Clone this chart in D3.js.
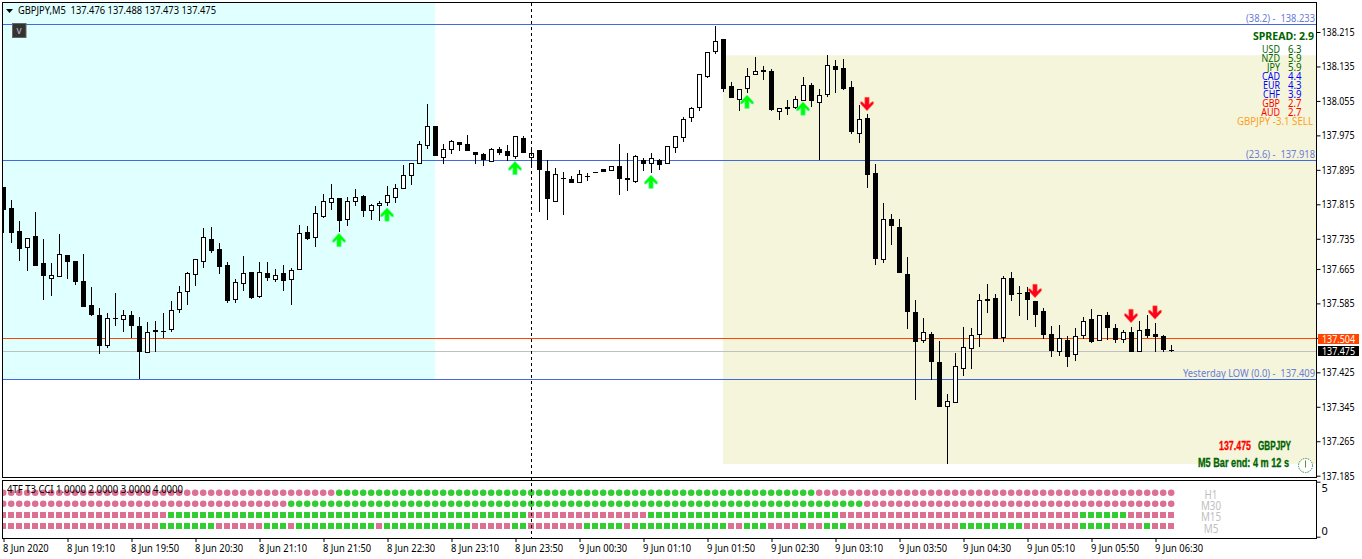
<!DOCTYPE html>
<html><head><meta charset="utf-8">
<script src="https://cdn.jsdelivr.net/npm/d3@7"></script>
<style>
html,body{margin:0;padding:0;background:#fff;overflow:hidden}
svg{display:block}
text{font-family:"Noto Sans",Tahoma,sans-serif;white-space:pre}
</style></head><body>
<svg id="c" width="1362" height="559"></svg>
<script>
const opens=[137.855,137.806,137.753,137.717,137.741,137.678,137.645,137.649,137.697,137.683,
137.637,137.581,137.558,137.489,137.551,137.548,137.557,137.533,137.472,137.523,
137.520,137.525,137.571,137.613,137.653,137.683,137.734,137.711,137.674,137.595,
137.632,137.657,137.601,137.655,137.642,137.655,137.641,137.664,137.750,137.738,
137.789,137.821,137.829,137.780,137.823,137.834,137.801,137.813,137.821,137.833,
137.854,137.884,137.912,137.952,137.997,137.924,137.944,137.959,137.955,137.936,
137.931,137.916,137.943,137.939,137.928,137.968,137.925,137.940,137.892,137.823,
137.875,137.873,137.867,137.881,137.890,137.896,137.895,137.904,137.875,137.870,
137.918,137.912,137.919,137.910,137.947,137.972,138.017,138.042,138.113,138.170,
138.199,138.089,138.059,138.086,138.117,138.127,138.124,138.032,138.041,138.041,
138.058,138.093,138.053,138.070,138.136,138.131,138.087,137.980,138.015,137.888,
137.689,137.780,137.762,137.653,137.565,137.499,137.514,137.449,137.346,137.357,
137.435,137.481,137.513,137.595,137.597,137.506,137.643,137.609,137.611,137.591,
137.567,137.514,137.474,137.499,137.467,137.511,137.548,137.499,137.557,137.527,
137.502,137.518,137.474,137.525,137.513,137.509,137.476];
const closes=[137.802,137.748,137.711,137.736,137.672,137.649,137.651,137.699,137.680,137.635,
137.577,137.558,137.486,137.551,137.551,137.557,137.533,137.471,137.519,137.519,
137.520,137.569,137.611,137.655,137.687,137.738,137.707,137.670,137.591,137.634,
137.655,137.598,137.657,137.644,137.650,137.638,137.663,137.748,137.734,137.794,
137.822,137.829,137.777,137.823,137.831,137.800,137.813,137.819,137.836,137.852,
137.882,137.910,137.954,137.996,137.928,137.943,137.961,137.953,137.939,137.930,
137.918,137.943,137.935,137.928,137.973,137.935,137.933,137.895,137.828,137.885,
137.875,137.865,137.885,137.881,137.890,137.891,137.903,137.874,137.871,137.926,
137.908,137.922,137.906,137.950,137.973,138.012,138.038,138.118,138.168,138.193,
138.083,138.062,138.083,138.114,138.124,138.123,138.034,138.038,138.037,138.059,
138.091,138.055,138.068,138.138,138.127,138.083,137.983,138.012,137.884,137.689,
137.780,137.765,137.656,137.566,137.496,137.518,137.448,137.345,137.358,137.439,
137.483,137.511,137.592,137.591,137.503,137.643,137.605,137.606,137.593,137.559,
137.512,137.475,137.504,137.461,137.509,137.544,137.496,137.557,137.529,137.499,
137.518,137.473,137.523,137.510,137.506,137.476,137.475];
const highs=[137.855,137.825,137.776,137.737,137.796,137.734,137.678,137.746,137.697,137.683,
137.700,137.622,137.574,137.562,137.609,137.570,137.567,137.554,137.542,137.544,
137.562,137.590,137.625,137.657,137.687,137.760,137.762,137.725,137.680,137.641,
137.695,137.658,137.681,137.681,137.664,137.673,137.666,137.766,137.765,137.811,
137.839,137.862,137.830,137.832,137.851,137.836,137.815,137.822,137.857,137.862,
137.906,137.910,137.962,138.048,137.997,137.954,137.964,137.959,137.976,137.936,
137.933,137.945,137.948,137.953,137.973,137.974,137.941,137.940,137.919,137.899,
137.889,137.881,137.895,137.887,137.890,137.896,137.903,137.955,137.933,137.929,
137.923,137.933,137.920,137.950,137.973,138.017,138.040,138.118,138.168,138.229,
138.199,138.098,138.083,138.131,138.157,138.136,138.128,138.038,138.057,138.066,
138.110,138.096,138.083,138.161,138.150,138.152,138.101,138.045,138.025,137.908,
137.818,137.792,137.782,137.692,137.593,137.551,137.518,137.498,137.375,137.469,
137.530,137.527,137.606,137.630,137.606,137.648,137.658,137.625,137.623,137.591,
137.574,137.533,137.534,137.509,137.527,137.553,137.571,137.557,137.564,137.537,
137.523,137.531,137.544,137.557,137.539,137.511,137.488];
const lows=[137.748,137.725,137.684,137.661,137.672,137.593,137.602,137.649,137.642,137.628,
137.577,137.556,137.468,137.482,137.533,137.519,137.504,137.409,137.472,137.473,
137.504,137.519,137.563,137.581,137.626,137.667,137.702,137.654,137.587,137.587,
137.614,137.596,137.598,137.638,137.635,137.614,137.581,137.664,137.732,137.717,
137.783,137.802,137.751,137.765,137.811,137.786,137.779,137.777,137.812,137.819,
137.851,137.860,137.912,137.943,137.928,137.909,137.932,137.939,137.939,137.909,
137.905,137.916,137.930,137.916,137.920,137.935,137.899,137.796,137.779,137.823,
137.790,137.865,137.867,137.870,137.890,137.891,137.895,137.837,137.846,137.865,
137.892,137.888,137.895,137.910,137.935,137.960,138.007,138.032,138.109,138.164,
138.076,138.062,138.032,138.074,138.117,138.104,138.032,138.011,138.022,138.036,
138.058,138.041,137.917,138.065,138.074,138.081,137.978,137.957,137.853,137.674,
137.679,137.721,137.656,137.526,137.361,137.494,137.407,137.345,137.212,137.357,
137.417,137.433,137.484,137.563,137.503,137.495,137.591,137.556,137.547,137.530,
137.503,137.461,137.463,137.438,137.452,137.503,137.492,137.499,137.500,137.492,
137.492,137.473,137.474,137.505,137.473,137.471,137.473];

const xTickLabels=["8 Jun 2020","8 Jun 19:10","8 Jun 19:50","8 Jun 20:30","8 Jun 21:10","8 Jun 21:50","8 Jun 22:30","8 Jun 23:10","8 Jun 23:50","9 Jun 00:30","9 Jun 01:10","9 Jun 01:50","9 Jun 02:30","9 Jun 03:10","9 Jun 03:50","9 Jun 04:30","9 Jun 05:10","9 Jun 05:50","9 Jun 06:30"];
const xTickBars=[0,8,16,24,32,40,48,56,64,72,80,88,96,104,112,120,128,136,144];
const yTickValues=[138.215,138.135,138.055,137.975,137.895,137.815,137.735,137.665,137.585,137.505,137.425,137.345,137.265,137.185];

const upArrowBars=[42,48,64,81,93,100];
const upArrowPrices=[137.748,137.807,137.915,137.883,138.069,138.053];
const downArrowBars=[108,129,141,144];
const downArrowPrices=[138.032,137.598,137.540,137.548];

const fibHigh=138.233, fibMid=137.918, yesterdayLow=137.409, askPrice=137.504, bidPrice=137.475;
const cursorBar=66, cyanEndBar=54, beigeStartBar=90, beigeTopPrice=138.161, beigeBottomPrice=137.212;

const strengthNames=["USD","NZD","JPY","CAD","EUR","CHF","GBP","AUD"];
const strengthValues=["6.3","5.9","5.9","4.4","4.3","3.9","2.7","2.7"];
const strengthColors=["#006400","#006400","#006400","#0000ff","#0000ff","#0000ff","#ff0000","#ff0000"];

const tfNames=["H1","M30","M15","M5"];
const tfLevels=[4,3,2,1];
const tfShapes=["circle","circle","square","square"];
const greenRunsH1=[[42,101]];
const greenRunsM30=[[36,107]];
const greenRunsM15=[[21,65],[81,104],[135,140]];
const greenRunsM5=[[20,26],[33,35],[37,46],[48,58],[64,65],[73,77],[79,90],[93,95],[100,100],[103,105],[120,127],[135,138],[143,143]];
const tfRuns=[greenRunsH1,greenRunsM30,greenRunsM15,greenRunsM5];

const svg=d3.select("#c");
const x=d3.scaleLinear().domain([0,146]).range([3.5,1171.5]);
const y=d3.scaleLinear().domain([137.185,138.215]).range([475.7,32]);
const ySub=d3.scaleLinear().domain([0,5]).range([536.7,481.7]);
const BL=1,BT=2,BR=1317,BB=478,ST=481,SB=538;
const blue="#4169e1",pink="#db7093",green="#32cd32";

// squeeze a text to a width (or a fraction of its natural width); the installed fonts run wider than the original
function squeeze(sel,factor){
  sel.each(function(){
    const w=this.getComputedTextLength();
    d3.select(this).attr("textLength",(w*factor).toFixed(1)).attr("lengthAdjust","spacingAndGlyphs");
  });
  return sel;
}
function fit(sel,len){return sel.attr("textLength",len).attr("lengthAdjust","spacingAndGlyphs");}

const defs=svg.append("defs");
defs.append("clipPath").attr("id","mainClip").append("rect").attr("x",3).attr("y",3).attr("width",BR-3).attr("height",BB-4);
defs.append("clipPath").attr("id","subClip").append("rect").attr("x",3).attr("y",ST).attr("width",BR-3).attr("height",SB-ST);

const main=svg.append("g").attr("clip-path","url(#mainClip)");
main.append("rect").attr("x",0).attr("y",0).attr("width",x(cyanEndBar)-0.5).attr("height",y(yesterdayLow)).attr("fill","#e0ffff");
main.append("rect").attr("x",x(beigeStartBar)-0.5).attr("y",y(beigeTopPrice)).attr("width",BR-x(beigeStartBar)).attr("height",y(beigeBottomPrice)-y(beigeTopPrice)).attr("fill","#f5f5dc");

const hLines=[[fibHigh,blue],[fibMid,blue],[yesterdayLow,blue],[askPrice,"#ff4500"],[bidPrice,"#c0c0c0"]];
main.selectAll("line.h").data(hLines).join("line")
 .attr("x1",0).attr("x2",BR).attr("y1",d=>Math.round(y(d[0]))+0.5).attr("y2",d=>Math.round(y(d[0]))+0.5)
 .attr("stroke",d=>d[1]).attr("stroke-width",1);

const bars=opens.map((o,i)=>({i,o,c:closes[i],h:highs[i],l:lows[i]}));
const cg=main.append("g").attr("shape-rendering","crispEdges");
const r=v=>Math.round(y(v));
cg.selectAll("rect.w").data(bars).join("rect").attr("class","w")
 .attr("x",d=>x(d.i)-0.5).attr("width",1)
 .attr("y",d=>r(d.h)).attr("height",d=>Math.max(1,r(d.l)-r(d.h))).attr("fill","#000");
cg.selectAll("rect.b").data(bars).join("rect").attr("class","b")
 .each(function(d){
   const top=r(Math.max(d.o,d.c)),bot=r(Math.min(d.o,d.c)),s=d3.select(this);
   if(d.c>d.o){
     s.attr("x",x(d.i)-2).attr("width",4).attr("y",top+0.5).attr("height",Math.max(1,bot-top))
      .attr("fill","#fff").attr("stroke","#000").attr("stroke-width",1);
   }else{
     s.attr("x",x(d.i)-2.5).attr("width",5).attr("y",top).attr("height",Math.max(1,bot-top)).attr("fill","#000");
   }
 });

const upShape="M0,0L6.5,7L6.5,9L5,9L2.2,6.5L2.2,13.5L-2.2,13.5L-2.2,6.5L-5,9L-6.5,9L-6.5,7Z";
const dnShape="M0,0L6.5,-7L6.5,-9L5,-9L2.2,-6.5L2.2,-13.5L-2.2,-13.5L-2.2,-6.5L-5,-9L-6.5,-9L-6.5,-7Z";
main.selectAll("path.up").data(upArrowBars).join("path")
 .attr("transform",(d,i)=>`translate(${x(d)-0.5},${y(upArrowPrices[i])})`).attr("d",upShape)
 .attr("fill","#00ff00").attr("stroke","#60ffc0").attr("stroke-width",0.6);
main.selectAll("path.dn").data(downArrowBars).join("path")
 .attr("transform",(d,i)=>`translate(${x(d)-0.5},${y(downArrowPrices[i])})`).attr("d",dnShape)
 .attr("fill","#ff0020").attr("stroke","#ff8040").attr("stroke-width",0.5);

const sub=svg.append("g").attr("clip-path","url(#subClip)");
tfNames.forEach((name,k)=>{
  const isGreen=i=>tfRuns[k].some(p=>i>=p[0]&&i<=p[1]);
  const cy=ySub(tfLevels[k]);
  if(tfShapes[k]==="circle"){
    sub.selectAll("circle.r"+k).data(bars).join("circle")
     .attr("cx",d=>x(d.i)-0.3).attr("cy",cy).attr("r",3.3).attr("fill",d=>isGreen(d.i)?green:pink);
  }else{
    sub.selectAll("rect.r"+k).data(bars).join("rect").attr("shape-rendering","crispEdges")
     .attr("x",d=>x(d.i)-3.5).attr("y",Math.round(cy)-3).attr("width",6).attr("height",6).attr("fill",d=>isGreen(d.i)?green:pink);
  }
});

svg.append("line").attr("x1",x(cursorBar)).attr("x2",x(cursorBar)).attr("y1",3).attr("y2",SB)
 .attr("stroke","#000").attr("stroke-dasharray","3,3").attr("shape-rendering","crispEdges");

svg.append("rect").attr("x",BL+1.5).attr("y",BT+0.5).attr("width",BR-3).attr("height",BB-BT-1).attr("fill","none").attr("stroke","#000").attr("shape-rendering","crispEdges");
svg.append("rect").attr("x",BL+1.5).attr("y",ST-0.5).attr("width",BR-3).attr("height",SB-ST+0.5).attr("fill","none").attr("stroke","#000").attr("shape-rendering","crispEdges");

const yAxis=svg.append("g").attr("transform",`translate(${BR-0.5},0)`)
 .call(d3.axisRight(y).tickValues(yTickValues).tickFormat(d3.format(".3f")).tickSize(4).tickPadding(1));
yAxis.select(".domain").remove();
yAxis.selectAll("line").attr("stroke","#000");
fit(yAxis.selectAll("text").attr("font-size",11).attr("font-family",'"Noto Sans"').attr("fill","#000"),33);

const xAxis=svg.append("g").attr("transform",`translate(0,${SB})`)
 .call(d3.axisBottom(x).tickValues(xTickBars).tickFormat((d,i)=>xTickLabels[i]).tickSize(4).tickPadding(2));
xAxis.select(".domain").remove();
xAxis.selectAll("line").attr("stroke","#000");
squeeze(xAxis.selectAll("text").attr("text-anchor","start").attr("dx",-1).attr("font-size",11).attr("font-family",'"Noto Sans"').attr("fill","#000"),0.85);

const subAxis=svg.append("g").attr("transform",`translate(${BR-0.5},0)`)
 .call(d3.axisRight(ySub).tickValues([0,5]).tickFormat(d3.format("d")).tickSize(4).tickPadding(1));
subAxis.select(".domain").remove();
subAxis.selectAll("text").attr("font-size",11).attr("font-family",'"Noto Sans"').attr("dy",d=>d===5?"0.85em":"-0.16em");
subAxis.selectAll("line").attr("stroke","#000");

const tags=[[askPrice,"#ff4500"],[bidPrice,"#000"]];
tags.forEach(t=>{
  const yc=y(t[0])+0.3;
  svg.append("rect").attr("x",1318).attr("y",Math.round(yc)-5).attr("width",41).attr("height",10).attr("fill",t[1]);
  fit(svg.append("text").attr("x",1322).attr("y",yc+4).attr("font-size",11).attr("fill","#fff").text(t[0].toFixed(3)),33);
});

function T(xp,yp,s,o={}){
  const t=svg.append("text").attr("x",xp).attr("y",yp).attr("font-size",o.size||11).attr("fill",o.fill||"#000")
   .attr("text-anchor",o.anchor||"start").attr("font-weight",o.weight||"normal")
   .style("font-family",o.family||'"Noto Sans"').text(s);
  if(o.len) fit(t,o.len);
  if(o.factor) squeeze(t,o.factor);
  if(o.heavy) t.attr("stroke",o.fill).attr("stroke-width",o.heavy);
  return t;
}
svg.append("path").attr("d","M6,9L13,9L9.5,13Z").attr("fill","#000");
T(18,14,"GBPJPY,M5  137.476 137.488 137.473 137.475",{size:11,len:198});
svg.append("rect").attr("x",12.5).attr("y",23.5).attr("width",13.5).attr("height",14).attr("fill","#333").attr("stroke","#666");
T(19,34,"v",{size:10,fill:"#bbb",anchor:"middle"});

const fibBlue="#6a7bd8";
T(1315,22,"(38.2) -  138.233",{size:11,fill:fibBlue,anchor:"end",len:69});
T(1315,158,"(23.6) -  137.918",{size:11,fill:fibBlue,anchor:"end",len:69});
T(1315,377,"Yesterday LOW (0.0) -  137.409",{size:11,fill:fibBlue,anchor:"end",len:132});

T(1314,40,"SPREAD: 2.9",{size:11,fill:"#006400",anchor:"end",weight:"bold",len:61});
strengthNames.forEach((n,i)=>{
  const yy=53+i*9;
  T(1280,yy,n,{size:10.5,fill:strengthColors[i],anchor:"end",factor:0.85});
  T(1288,yy,strengthValues[i],{size:10.5,fill:strengthColors[i],factor:0.92});
});
T(1313,125,"GBPJPY -3.1 SELL",{size:10.5,fill:"#ffa020",anchor:"end",len:76});

T(1251,450,"137.475",{size:12,fill:"#ff0000",anchor:"end",weight:"bold",len:32,heavy:0.3,family:'"Liberation Sans"'});
T(1258,450,"GBPJPY",{size:12,fill:"#006400",weight:"bold",len:33,heavy:0.3,family:'"Liberation Sans"'});
T(1198,467,"M5 Bar end: 4 m 12 s",{size:12.5,fill:"#006400",weight:"bold",len:91,heavy:0.3,family:'"Liberation Sans"'});

const ck=svg.append("g").attr("transform","translate(1305.5,465.5)");
ck.append("circle").attr("r",7).attr("fill","#fff").attr("stroke","#2e8b57").attr("stroke-dasharray","1.5,1");
ck.append("line").attr("x1",0).attr("y1",-5).attr("x2",0).attr("y2",2).attr("stroke","#6b8e23");

T(7,493,"4TF T3 CCI 1.0000 2.0000 3.0000 4.0000",{size:11,len:176});
const tfY=[498.5,509.5,520.5,532.5];
tfNames.forEach((n,i)=>T(1211,tfY[i],n,{size:12,fill:"#c0c0c0",anchor:"middle",factor:0.82}));
</script>
</body></html>
